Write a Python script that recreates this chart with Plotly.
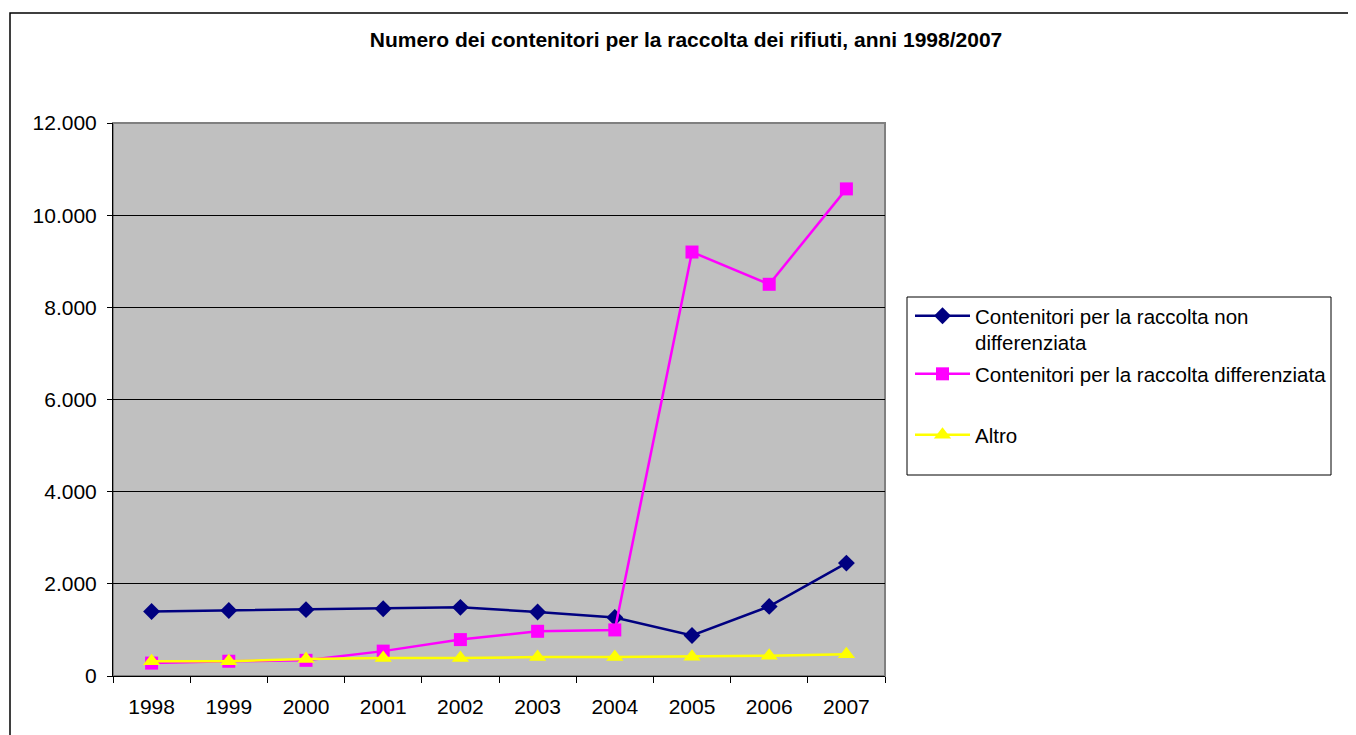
import plotly.graph_objects as go

# Number of waste-collection containers, 1998-2007
YEARS = ["1998", "1999", "2000", "2001", "2002", "2003", "2004", "2005", "2006", "2007"]
NON_DIFF = [1400, 1420, 1440, 1460, 1490, 1390, 1270, 880, 1510, 2450]
DIFF = [280, 320, 340, 540, 790, 970, 1000, 9200, 8500, 10570]
ALTRO = [320, 320, 370, 390, 390, 410, 410, 420, 440, 470]

NAMES = [
    "Contenitori per la raccolta non<br>differenziata",
    "Contenitori per la raccolta differenziata",
    "Altro",
]

FONT = "Liberation Sans, Arial, sans-serif"

# the page body has an 8px margin, so everything is laid out in page pixels minus 8
OFF = 8
W, H = 1356 - OFF, 735 - OFF
L, R, T, B = 113 - OFF, 885 - OFF, 123 - OFF, 676 - OFF
PW, PH = R - L, B - T


def px_x(x):
    """page pixel x -> paper coordinate"""
    return (x - OFF - L) / PW


def px_y(y):
    """page pixel y -> paper coordinate"""
    return (B - (y - OFF)) / PH


fig = go.Figure()
series = [
    (NON_DIFF, "#000080", "diamond", 13, "legend", 310),
    (DIFF, "#FF00FF", "square", 13, "legend2", 368),
    (ALTRO, "#FFFF00", "triangle-up", 15, "legend3", 429),
]
legends = {}
for i, (vals, color, symbol, size, leg, ly) in enumerate(series):
    fig.add_trace(go.Scatter(
        x=YEARS, y=vals, name=NAMES[i], mode="lines+markers",
        legend=leg,
        line=dict(color=color, width=2.5),
        marker=dict(symbol=symbol, size=size, color=color),
    ))
    legends[leg] = dict(
        x=px_x(910), y=px_y(ly - 14), xanchor="left", yanchor="top",
        bgcolor="rgba(0,0,0,0)", borderwidth=0, itemwidth=55, valign="top",
        font=dict(family=FONT, size=20.5, color="black"),
    )

fig.update_layout(
    width=W, height=H,
    margin=dict(l=L, r=W - R, t=T, b=H - B),
    paper_bgcolor="white",
    plot_bgcolor="#C0C0C0",
    separators=",.",
    font=dict(family=FONT, size=20, color="black"),
    title=dict(
        text="<b>Numero dei contenitori per la raccolta dei rifiuti, anni 1998/2007</b>",
        x=px_x(686), xref="paper", xanchor="center",
        y=1 - (40 - OFF) / H, yanchor="middle",
        font=dict(family=FONT, size=21, color="black"),
    ),
    showlegend=True,
    **legends,
)

fig.update_xaxes(
    type="category", range=[-0.5, len(YEARS) - 0.5],
    tickson="boundaries", ticks="outside", ticklen=6,
    tickcolor="black", showline=True, linecolor="black", linewidth=1,
    showgrid=False, tickfont=dict(size=21), ticklabelstandoff=12,
)
fig.update_yaxes(
    range=[0, 12000], dtick=2000, tickformat=",d", ticks="outside", ticklen=5,
    tickcolor="black", showline=True, linecolor="black", linewidth=1,
    showgrid=True, gridcolor="black", gridwidth=1, zeroline=False,
    tickfont=dict(size=21), ticklabelstandoff=6,
)

# gray frame of the plot area (top/right edges)
fig.add_shape(type="rect", xref="paper", yref="paper", x0=0, x1=1, y0=0, y1=1,
              line=dict(color="#808080", width=2), layer="below")
# chart outer border
fig.add_shape(type="rect", xref="paper", yref="paper",
              x0=px_x(10), x1=px_x(1350), y0=px_y(760), y1=px_y(13),
              line=dict(color="black", width=1.5))
# legend box
fig.add_shape(type="rect", xref="paper", yref="paper",
              x0=px_x(907), x1=px_x(1331), y0=px_y(475), y1=px_y(297),
              line=dict(color="black", width=1), fillcolor="white", layer="below")

fig.write_html("out.html")
